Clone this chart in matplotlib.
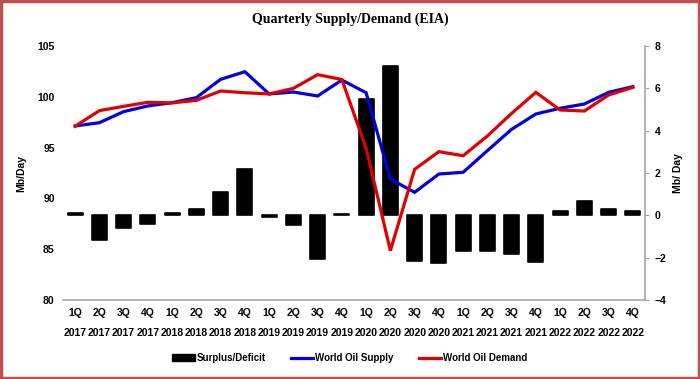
import matplotlib
matplotlib.use('Agg')
import matplotlib.pyplot as plt
from matplotlib.patches import Rectangle, Patch
from matplotlib.lines import Line2D

plt.rcParams['font.family'] = ['Liberation Sans Narrow', 'Liberation Sans', 'DejaVu Sans']
plt.rcParams['font.weight'] = 'bold'

quarters = ['1Q', '2Q', '3Q', '4Q'] * 6
years = [str(y) for y in range(2017, 2023) for _ in range(4)]

supply = [97.13, 97.45, 98.54, 99.10, 99.42, 99.92, 101.72, 102.47,
          100.28, 100.47, 100.08, 101.65, 100.40, 91.90, 90.60, 92.40,
          92.57, 94.70, 96.80, 98.31, 98.87, 99.29, 100.44, 101.00]
demand = [97.10, 98.64, 99.06, 99.46, 99.40, 99.65, 100.57, 100.40,
          100.28, 100.83, 102.18, 101.70, 94.93, 84.86, 92.86, 94.60,
          94.20, 96.14, 98.37, 100.44, 98.70, 98.60, 100.18, 100.93]
balance = [0.10, -1.15, -0.60, -0.40, 0.10, 0.30, 1.10, 2.20,
           -0.10, -0.45, -2.05, 0.05, 5.50, 7.05, -2.15, -2.27,
           -1.70, -1.70, -1.83, -2.22, 0.19, 0.69, 0.31, 0.19]

x = list(range(len(quarters)))
labels = [f'{q}\n{y}' for q, y in zip(quarters, years)]

fig = plt.figure(figsize=(7, 3.79), dpi=100)
fig.patch.set_facecolor('white')
ax = fig.add_axes([63 / 700, 1 - 300 / 379, 582 / 700, 254 / 379])
ax2 = ax.twinx()

# bars on the right axis, drawn behind the lines
ax2.bar(x, balance, 0.62, color='black', edgecolor='black', linewidth=1.2,
        joinstyle='round', zorder=1)
ax2.set_ylim(-4, 8)
ax2.set_yticks(range(-4, 9, 2))
ax2.set_zorder(1)
ax.set_zorder(2)
ax.patch.set_visible(False)

ax.plot(x, supply, color='#0000E0', linewidth=2.3, solid_joinstyle='miter')
ax.plot(x, demand, color='#E00000', linewidth=2.3, solid_joinstyle='miter')
ax.set_ylim(80, 105)
ax.set_yticks(range(80, 106, 5))
ax.set_xlim(-0.5, len(x) - 0.5)
ax.set_xticks(x)
ax.set_xticklabels(labels, linespacing=2.25)

for a in (ax, ax2):
    for s in a.spines.values():
        s.set_visible(False)
ax.spines['bottom'].set_visible(True)
ax.spines['bottom'].set_color('#A6A6A6')
ax.spines['bottom'].set_linewidth(1.2)
ax2.spines['right'].set_visible(True)
ax2.spines['right'].set_color('#A6A6A6')
ax2.spines['right'].set_linewidth(1.2)

ax.tick_params(axis='x', length=0, pad=6, labelsize=7.5)
ax.tick_params(axis='y', length=0, pad=6, labelsize=7.5)
ax2.tick_params(axis='y', length=3, color='#A6A6A6', pad=4, labelsize=7.5)

ax.set_ylabel('Mb/Day', fontsize=7.5, fontweight='bold', labelpad=8)
ax2.set_ylabel('Mb/ Day', fontsize=7.5, fontweight='bold', labelpad=5)

fig.text(0.5, 1 - 19 / 379, 'Quarterly Supply/Demand (EIA)', ha='center', va='center',
         fontsize=10, fontweight='bold', family=['Liberation Serif', 'DejaVu Serif'])

handles = [Patch(facecolor='black', edgecolor='black'),
           Line2D([], [], color='#0000E0', linewidth=2.3),
           Line2D([], [], color='#E00000', linewidth=2.3)]
fig.legend(handles, ['Surplus/Deficit', 'World Oil Supply', 'World Oil Demand'],
           loc='center', bbox_to_anchor=(0.5, 1 - 358 / 379), ncol=3, frameon=False,
           fontsize=7, handlelength=2.3, handletextpad=0.2, columnspacing=2.6)

fig.patches.append(Rectangle((0.002, 0.003), 0.996, 0.994, transform=fig.transFigure,
                             fill=False, edgecolor='#C0504D', linewidth=2.5))

fig.savefig('out.png', dpi=100)
